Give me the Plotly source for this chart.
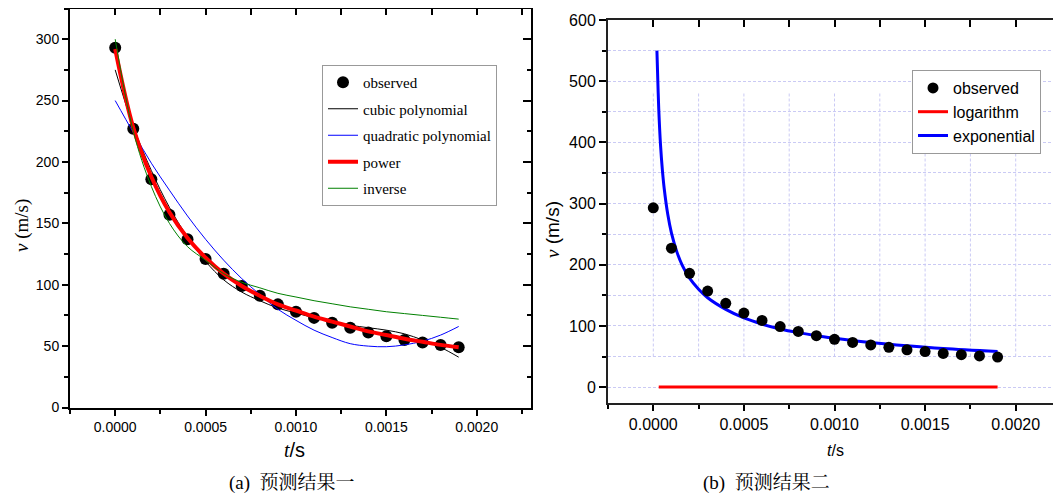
import plotly.graph_objects as go

# ---------------- data ----------------
t_obs = [0.0000, 0.0001, 0.0002, 0.0003, 0.0004, 0.0005, 0.0006, 0.0007, 0.0008, 0.0009,
         0.0010, 0.0011, 0.0012, 0.0013, 0.0014, 0.0015, 0.0016, 0.0017, 0.0018, 0.0019]
v_obs = [293, 227, 186, 157, 137, 121, 109, 99, 91, 84,
         78, 73, 69, 65, 61, 58, 55, 53, 51, 49]

# left panel fitted curves (read at t_obs)
v_cubic = [275, 229, 193, 163, 139, 119, 104, 94, 87, 81,
           77, 73, 70, 67, 65, 63, 60, 55, 49, 41]
v_quadratic = [250, 224, 199, 177, 156, 137, 120, 105, 92, 80,
               71, 63, 57, 52, 50, 49.5, 51, 54, 59, 66]
v_power = [292, 228, 188, 159, 138, 122, 109, 99, 91, 84,
           79, 74, 70, 66, 62, 59, 56, 53.5, 51, 49]
v_inverse = [300, 225, 180, 150, 131, 120, 109, 102, 97.5, 93,
             90, 87, 84.5, 82, 80, 78, 76.5, 75, 73.5, 72]

# right panel fitted curves
t_exp = [0.00002, 0.000025, 0.00003, 0.00004, 0.00005, 0.00006, 0.00008, 0.0001,
         0.00013, 0.00016, 0.0002, 0.00025, 0.0003, 0.0004, 0.0005, 0.0006,
         0.0007, 0.0008, 0.0009, 0.0010, 0.0012, 0.0014, 0.0016, 0.0019]
v_exp = [550, 500, 455, 395, 355, 325, 282, 252,
         221, 199, 178, 160, 146, 127, 113, 103,
         95, 89, 84, 80, 73, 67.5, 63, 58]
t_log = [0.00003, 0.0005, 0.0010, 0.0015, 0.0019]
v_log = [0, 0, 0, 0, 0]

# ticks
x_tickvals = [0.0000, 0.0005, 0.0010, 0.0015, 0.0020]
x_ticktext = ["0.0000", "0.0005", "0.0010", "0.0015", "0.0020"]
yl_tickvals = [0, 50, 100, 150, 200, 250, 300]
yr_tickvals = [0, 100, 200, 300, 400, 500, 600]
vgrid_t = [0.0000, 0.00025, 0.0005, 0.00075, 0.0010, 0.00125, 0.0015, 0.00175, 0.0020]

# captions / titles
caption_a = "(a)  预测结果一"
caption_b = "(b)  预测结果二"

# The page body has an 8px default margin: work in reference pixels and offset.
VW, VH = 1061, 497
OFF = 8
FW, FH = VW - OFF, VH - OFF


def px(x):
    return (x - OFF) / FW


def py(y):
    return 1 - (y - OFF) / FH


SERIF = "Liberation Serif, Times New Roman, serif"
SANS = "Liberation Sans, Arial, sans-serif"
CJK = "Liberation Serif, Noto Serif CJK SC, Noto Sans CJK SC, serif"

fig = go.Figure()

# ---------- left panel ----------
fig.add_trace(go.Scatter(x=t_obs, y=v_obs, mode="markers", name="observed",
                         marker=dict(color="black", size=12),
                         xaxis="x", yaxis="y", legend="legend", legendgroup="a1"))
fig.add_trace(go.Scatter(x=t_obs, y=v_cubic, mode="lines", name="cubic polynomial",
                         line=dict(color="black", width=1, shape="spline"),
                         xaxis="x", yaxis="y", legend="legend", legendgroup="a2"))
fig.add_trace(go.Scatter(x=t_obs, y=v_quadratic, mode="lines", name="quadratic polynomial",
                         line=dict(color="#0000ff", width=1, shape="spline"),
                         xaxis="x", yaxis="y", legend="legend", legendgroup="a3"))
fig.add_trace(go.Scatter(x=t_obs, y=v_power, mode="lines", name="power",
                         line=dict(color="#ff0000", width=4, shape="spline"),
                         xaxis="x", yaxis="y", legend="legend", legendgroup="a4"))
fig.add_trace(go.Scatter(x=t_obs, y=v_inverse, mode="lines", name="inverse",
                         line=dict(color="#008000", width=1, shape="spline"),
                         xaxis="x", yaxis="y", legend="legend", legendgroup="a5"))
fig.add_trace(go.Scatter(x=[None], y=[None], xaxis="x3", yaxis="y3",
                         showlegend=False, hoverinfo="skip"))

# ---------- right panel ----------
fig.add_trace(go.Scatter(x=t_log, y=v_log, mode="lines", name="logarithm",
                         line=dict(color="#ff0000", width=3),
                         xaxis="x2", yaxis="y2", legend="legend2", legendrank=2))
fig.add_trace(go.Scatter(x=t_exp, y=v_exp, mode="lines", name="exponential",
                         line=dict(color="#0000ff", width=3, shape="spline"),
                         xaxis="x2", yaxis="y2", legend="legend2", legendrank=3))
fig.add_trace(go.Scatter(x=t_obs, y=v_obs, mode="markers", name="observed",
                         marker=dict(color="black", size=11),
                         xaxis="x2", yaxis="y2", legend="legend2", legendrank=1))
fig.add_trace(go.Scatter(x=[None], y=[None], xaxis="x4", yaxis="y4",
                         showlegend=False, hoverinfo="skip"))

gridc = "#cacaf4"
gdash = "3px,2px"
# vertical dashed grid in right panel (Origin-style partial grid)
for tv in vgrid_t:
    fig.add_shape(type="line", xref="x2", yref="y2", x0=tv, x1=tv, y0=50, y1=480,
                  line=dict(color=gridc, width=1, dash=gdash), layer="below")

lx0, lx1, ly0, ly1 = px(70), px(531), py(407.5), py(8.5)
rx0, rx1, ry0, ry1 = px(608), 1.0, py(403), py(20)


def base_x(dom, anchor, size, rmax):
    return dict(domain=[dom[0], dom[1]], anchor=anchor, range=[-0.00025, rmax],
                tickmode="array", tickvals=x_tickvals, ticktext=x_ticktext,
                ticks="outside", ticklen=6, tickwidth=1.5, tickcolor="black",
                minor=dict(tick0=0, dtick=0.00025, ticks="outside", ticklen=4, tickwidth=1.5, tickcolor="black"),
                showline=True, linecolor="black", linewidth=2, showgrid=False, zeroline=False,
                tickfont=dict(family=SANS, size=size, color="black"), automargin=False)


xa = base_x((lx0, lx1), "y", 14, 0.0023)
xa3 = dict(xa)
xa3.update(overlaying="x", side="top", ticks="inside", showticklabels=False,
           minor=dict(tick0=0, dtick=0.00025, ticks="inside", ticklen=6, tickwidth=1.5, tickcolor="black"))
xb = base_x((rx0, rx1), "y2", 16, 0.00225)
xb["linecolor"] = "#222"
xb4 = dict(xb)
xb4.update(overlaying="x2", side="top", ticks="inside", showticklabels=False, ticklen=7,
           minor=dict(tick0=0, dtick=0.00025, ticks="inside", ticklen=7, tickwidth=1.5, tickcolor="black"))

ya = dict(domain=[ly0, ly1], anchor="x", range=[0, 325], tickmode="array", tickvals=yl_tickvals,
          ticks="outside", ticklen=6, tickwidth=1.5, tickcolor="black",
          minor=dict(tick0=0, dtick=25, ticks="outside", ticklen=4, tickwidth=1.5, tickcolor="black"),
          showline=True, linecolor="black", linewidth=2, showgrid=False, zeroline=False,
          tickfont=dict(family=SANS, size=14, color="black"), automargin=False)
ya3 = dict(ya)
ya3.update(overlaying="y", side="right", anchor="x", ticks="inside", showticklabels=False, ticklen=8,
           minor=dict(tick0=0, dtick=25, ticks="inside", ticklen=4, tickwidth=1.5, tickcolor="black"))

yb = dict(domain=[ry0, ry1], anchor="x2", range=[-26, 600], tickmode="array", tickvals=yr_tickvals,
          ticks="outside", ticklen=7, tickwidth=1.5, tickcolor="black",
          showgrid=True, gridcolor=gridc, griddash=gdash, gridwidth=1,
          minor=dict(tick0=0, dtick=50, ticks="outside", ticklen=4, tickwidth=1.5, tickcolor="black",
                     showgrid=True, gridcolor=gridc, griddash=gdash, gridwidth=1),
          showline=True, linecolor="#222", linewidth=2, zeroline=False,
          tickfont=dict(family=SANS, size=16, color="black"), automargin=False)
yb4 = dict(domain=[ry0, ry1], anchor="x2", overlaying="y2", side="right", range=[-26, 600],
           tickmode="array", tickvals=yr_tickvals, ticks="inside", ticklen=7, tickwidth=1.5, tickcolor="black",
           minor=dict(tick0=0, dtick=50, ticks="inside", ticklen=4, tickwidth=1.5, tickcolor="black"),
           showticklabels=False, showline=False, showgrid=False, zeroline=False, automargin=False)


def ann(text, x, y, font, angle=0):
    return dict(text=text, x=px(x), y=py(y), xref="paper", yref="paper",
                xanchor="center", yanchor="middle", textangle=angle, showarrow=False, font=font)


annotations = [
    ann("<i>v</i> (m/s)", 22, 226, dict(family=SERIF, size=19, color="black"), -90),
    ann("<i>t</i><span style='font-family:Liberation Sans'>/s</span>", 294, 450,
        dict(family=SERIF, size=20, color="black")),
    ann("<span style='font-family:Liberation Serif'><i>v</i></span> (m/s)", 552, 230,
        dict(family=SANS, size=19, color="black"), -90),
    ann("<i>t</i>/s", 835, 450, dict(family=SANS, size=16, color="black")),
    ann(caption_a, 292, 483, dict(family=CJK, size=19, color="black")),
    ann(caption_b, 766, 483, dict(family=CJK, size=19, color="black")),
]

fig.update_layout(
    width=FW, height=FH, autosize=False,
    margin=dict(l=0, r=0, t=0, b=0),
    paper_bgcolor="white", plot_bgcolor="white",
    xaxis=xa, xaxis3=xa3, yaxis=ya, yaxis3=ya3,
    xaxis2=xb, xaxis4=xb4, yaxis2=yb, yaxis4=yb4,
    legend=dict(x=px(322), y=py(65), xanchor="left", yanchor="top",
                bgcolor="white", bordercolor="#999", borderwidth=1,
                font=dict(family=SERIF, size=15, color="black"), tracegroupgap=4),
    legend2=dict(x=px(912), y=py(70), xanchor="left", yanchor="top",
                 bgcolor="white", bordercolor="#999", borderwidth=1,
                 font=dict(family=SANS, size=16, color="black")),
    annotations=annotations,
    showlegend=True,
)

fig.write_html("out.html")
